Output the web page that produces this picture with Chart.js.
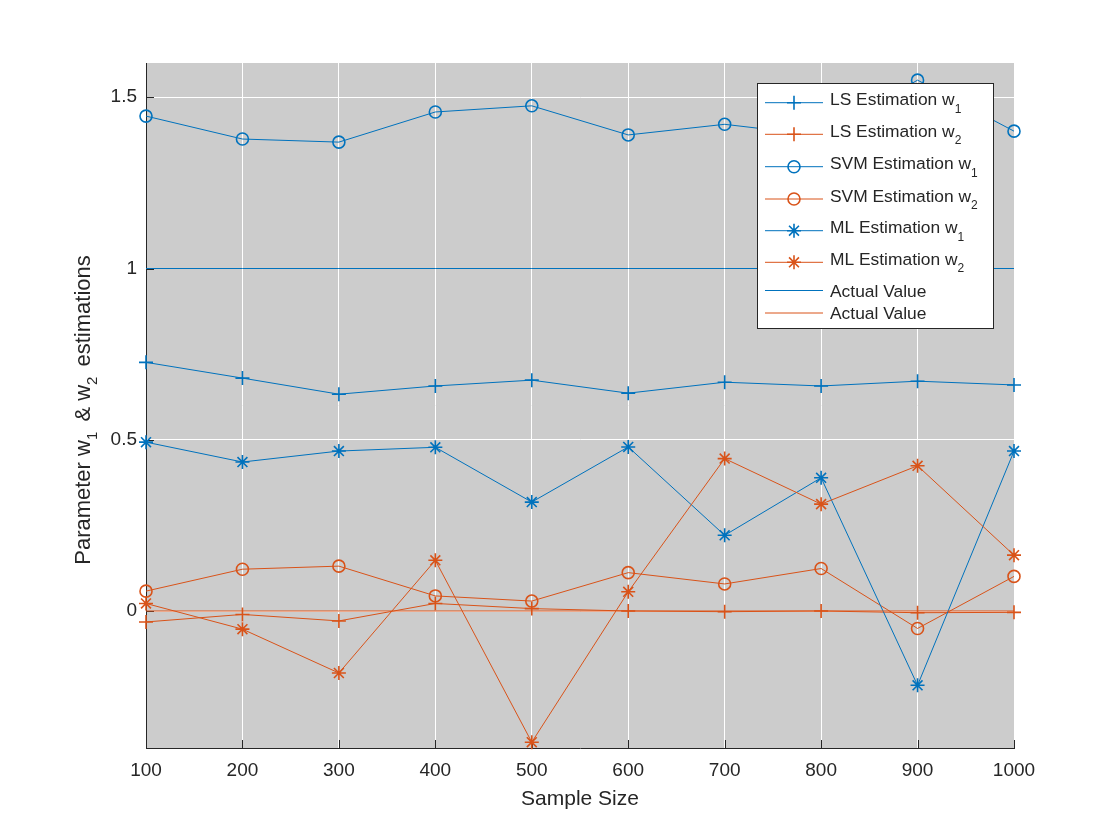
<!DOCTYPE html>
<html>
<head>
<meta charset="utf-8">
<script src="https://cdn.jsdelivr.net/npm/chart.js@4/dist/chart.umd.min.js"></script>
<style>
  html, body { margin: 0; padding: 0; background: #ffffff; }
  #wrap { width: 1120px; height: 840px; position: relative; }
  canvas { display: block; }
</style>
</head>
<body>
<div id="wrap"><canvas id="c" width="1120" height="840"></canvas></div>
<script>
// ---- Data ----
const sampleSizes = [100, 200, 300, 400, 500, 600, 700, 800, 900, 1000];
const lsW1  = [0.726, 0.680, 0.633, 0.657, 0.674, 0.636, 0.668, 0.657, 0.671, 0.660];
const lsW2  = [-0.032, -0.010, -0.029, 0.022, 0.007, 0.000, -0.002, 0.000, -0.005, -0.004];
const svmW1 = [1.445, 1.378, 1.369, 1.457, 1.475, 1.390, 1.421, 1.388, 1.550, 1.401];
const svmW2 = [0.058, 0.122, 0.131, 0.044, 0.029, 0.112, 0.079, 0.124, -0.051, 0.101];
const mlW1  = [0.493, 0.435, 0.467, 0.478, 0.318, 0.479, 0.221, 0.389, -0.217, 0.467];
const mlW2  = [0.022, -0.053, -0.181, 0.148, -0.383, 0.056, 0.445, 0.312, 0.424, 0.163];
const actualW1 = 1;
const actualW2 = 0;
const yTickValues = [0, 0.5, 1, 1.5];
const yTickLabels = ['0', '0.5', '1', '1.5'];
const xTickValues = sampleSizes;

const BLUE = '#0072BD';
const ORANGE = '#D95319';
const TXT = '#262626';
const FONT = '"Liberation Sans", Arial, Helvetica, sans-serif';

function pts(arr) { return sampleSizes.map((x, i) => ({ x: x, y: arr[i] })); }
function constPts(v) { return sampleSizes.map(x => ({ x: x, y: v })); }

const seriesDefs = [
  { main: 'LS Estimation w',  sub: '1', data: pts(lsW1),  color: BLUE,   style: 'cross',  r: 7 },
  { main: 'LS Estimation w',  sub: '2', data: pts(lsW2),  color: ORANGE, style: 'cross',  r: 7 },
  { main: 'SVM Estimation w', sub: '1', data: pts(svmW1), color: BLUE,   style: 'circle', r: 6 },
  { main: 'SVM Estimation w', sub: '2', data: pts(svmW2), color: ORANGE, style: 'circle', r: 6 },
  { main: 'ML Estimation w',  sub: '1', data: pts(mlW1),  color: BLUE,   style: 'star',   r: 7 },
  { main: 'ML Estimation w',  sub: '2', data: pts(mlW2),  color: ORANGE, style: 'star',   r: 7 },
  { main: 'Actual Value',     sub: '',  data: constPts(actualW1), color: BLUE,   style: false, r: 0 },
  { main: 'Actual Value',     sub: '',  data: constPts(actualW2), color: ORANGE, style: false, r: 0 }
];

const datasets = seriesDefs.map((s, i) => ({
  label: s.main + s.sub,
  data: s.data,
  borderColor: s.color,
  backgroundColor: 'rgba(0,0,0,0)',
  borderWidth: 1,
  pointStyle: s.style || 'circle',
  pointRadius: s.style ? s.r : 0,
  pointHoverRadius: s.style ? s.r : 0,
  pointBorderColor: s.color,
  pointBackgroundColor: 'rgba(0,0,0,0)',
  pointBorderWidth: 1.6,
  tension: 0,
  clip: false,
  order: -i
}));

function drawMarker(ctx, style, x, y, r, color) {
  ctx.save();
  ctx.strokeStyle = color;
  ctx.lineWidth = 1.6;
  ctx.beginPath();
  if (style === 'circle') {
    ctx.arc(x, y, r, 0, Math.PI * 2);
  } else if (style === 'cross') {
    ctx.moveTo(x - r, y); ctx.lineTo(x + r, y);
    ctx.moveTo(x, y - r); ctx.lineTo(x, y + r);
  } else if (style === 'star') {
    ctx.moveTo(x - r, y); ctx.lineTo(x + r, y);
    ctx.moveTo(x, y - r); ctx.lineTo(x, y + r);
    const d = r * Math.SQRT1_2;
    ctx.moveTo(x - d, y - d); ctx.lineTo(x + d, y + d);
    ctx.moveTo(x - d, y + d); ctx.lineTo(x + d, y - d);
  }
  ctx.stroke();
  ctx.restore();
}

function drawSubText(ctx, x, y, pieces, mainSize, subSize, subDrop) {
  let cx = x;
  for (const p of pieces) {
    if (p.sub) {
      ctx.font = subSize + 'px ' + FONT;
      ctx.fillText(p.t, cx, y + subDrop);
      cx += ctx.measureText(p.t).width + (p.gap || 0);
    } else {
      ctx.font = mainSize + 'px ' + FONT;
      ctx.fillText(p.t, cx, y);
      cx += ctx.measureText(p.t).width;
    }
  }
  return cx;
}
function measureSubText(ctx, pieces, mainSize, subSize) {
  let w = 0;
  for (const p of pieces) {
    ctx.font = (p.sub ? subSize : mainSize) + 'px ' + FONT;
    w += ctx.measureText(p.t).width + (p.sub ? (p.gap || 0) : 0);
  }
  return w;
}

const decor = {
  id: 'matlabDecor',
  beforeDraw(chart) {
    const { ctx, chartArea: a } = chart;
    ctx.save();
    ctx.fillStyle = '#ffffff';
    ctx.fillRect(0, 0, chart.width, chart.height);
    ctx.fillStyle = '#CCCCCC';
    ctx.fillRect(a.left, a.top, a.right - a.left, a.bottom - a.top);
    ctx.restore();
  },
  beforeDatasetsDraw(chart) {
    const { ctx, chartArea: a, scales } = chart;
    ctx.save();
    ctx.strokeStyle = TXT;
    ctx.lineWidth = 1;
    const tl = 8;
    ctx.beginPath();
    for (const v of xTickValues) {
      const px = Math.round(scales.x.getPixelForValue(v)) + 0.5;
      ctx.moveTo(px, a.bottom); ctx.lineTo(px, a.bottom - tl);
    }
    for (const v of yTickValues) {
      const py = Math.round(scales.y.getPixelForValue(v)) + 0.5;
      ctx.moveTo(a.left, py); ctx.lineTo(a.left + tl, py);
    }
    ctx.stroke();
    ctx.restore();
  },
  afterDraw(chart) {
    const { ctx, chartArea: a } = chart;
    ctx.save();
    ctx.fillStyle = TXT;
    ctx.textBaseline = 'alphabetic';
    ctx.textAlign = 'left';

    // x axis title
    ctx.font = '21px ' + FONT;
    const xt = 'Sample Size';
    const xw = ctx.measureText(xt).width;
    ctx.fillText(xt, (a.left + a.right) / 2 - xw / 2, 805);

    // y axis title (rotated)
    const yPieces = [
      { t: 'Parameter w' }, { t: '1', sub: true, gap: 4 },
      { t: ' & w' }, { t: '2', sub: true, gap: 4 },
      { t: ' estimations' }
    ];
    const yw = measureSubText(ctx, yPieces, 22, 15);
    ctx.save();
    ctx.translate(90, 410);
    ctx.rotate(-Math.PI / 2);
    drawSubText(ctx, -yw / 2, 0, yPieces, 22, 15, 7);
    ctx.restore();

    // legend
    const lx = 757, ly = 83, lw = 236, lh = 245;
    ctx.fillStyle = '#ffffff';
    ctx.fillRect(lx, ly, lw, lh);
    ctx.strokeStyle = TXT;
    ctx.lineWidth = 1;
    ctx.strokeRect(lx + 0.5, ly + 0.5, lw, lh);
    const rowY = [102.7, 134.3, 166.7, 199, 230.7, 262.3, 290.5, 313];
    seriesDefs.forEach((s, i) => {
      const y = rowY[i];
      ctx.save();
      ctx.strokeStyle = s.color;
      ctx.lineWidth = 1;
      ctx.beginPath();
      ctx.moveTo(765, y); ctx.lineTo(823, y);
      ctx.stroke();
      ctx.restore();
      if (s.style) drawMarker(ctx, s.style, 794, y, s.r, s.color);
      ctx.fillStyle = TXT;
      if (s.sub) {
        drawSubText(ctx, 830, y + 2.5, [{ t: s.main }, { t: s.sub, sub: true }], 17.4, 12, 7.5);
      } else {
        ctx.font = '17.4px ' + FONT;
        ctx.fillText(s.main, 830, y + 6);
      }
    });
    ctx.restore();
  }
};

new Chart(document.getElementById('c'), {
  type: 'line',
  data: { datasets: datasets },
  plugins: [decor],
  options: {
    responsive: false,
    animation: false,
    events: [],
    layout: { padding: { top: 63, right: 106, left: 0, bottom: 0 } },
    plugins: { legend: { display: false }, tooltip: { enabled: false }, title: { display: false } },
    scales: {
      x: {
        type: 'linear',
        min: 100, max: 1000,
        afterFit(scale) { scale.height = 92; },
        afterBuildTicks(scale) { scale.ticks = xTickValues.map(v => ({ value: v })); },
        grid: { color: '#ffffff', lineWidth: 1, drawTicks: false },
        border: { display: true, color: TXT, width: 1 },
        ticks: {
          padding: 11,
          color: TXT,
          maxRotation: 0,
          autoSkip: false,
          font: { family: FONT, size: 19 },
          callback: (v) => String(v)
        }
      },
      y: {
        type: 'linear',
        min: -0.4, max: 1.6,
        afterFit(scale) { scale.width = 146; },
        afterBuildTicks(scale) { scale.ticks = yTickValues.map(v => ({ value: v })); },
        grid: { color: '#ffffff', lineWidth: 1, drawTicks: false },
        border: { display: true, color: TXT, width: 1 },
        ticks: {
          padding: 9,
          color: TXT,
          autoSkip: false,
          font: { family: FONT, size: 19 },
          callback: (v) => yTickLabels[yTickValues.indexOf(v)] ?? ''
        }
      }
    }
  }
});
</script>
</body>
</html>
